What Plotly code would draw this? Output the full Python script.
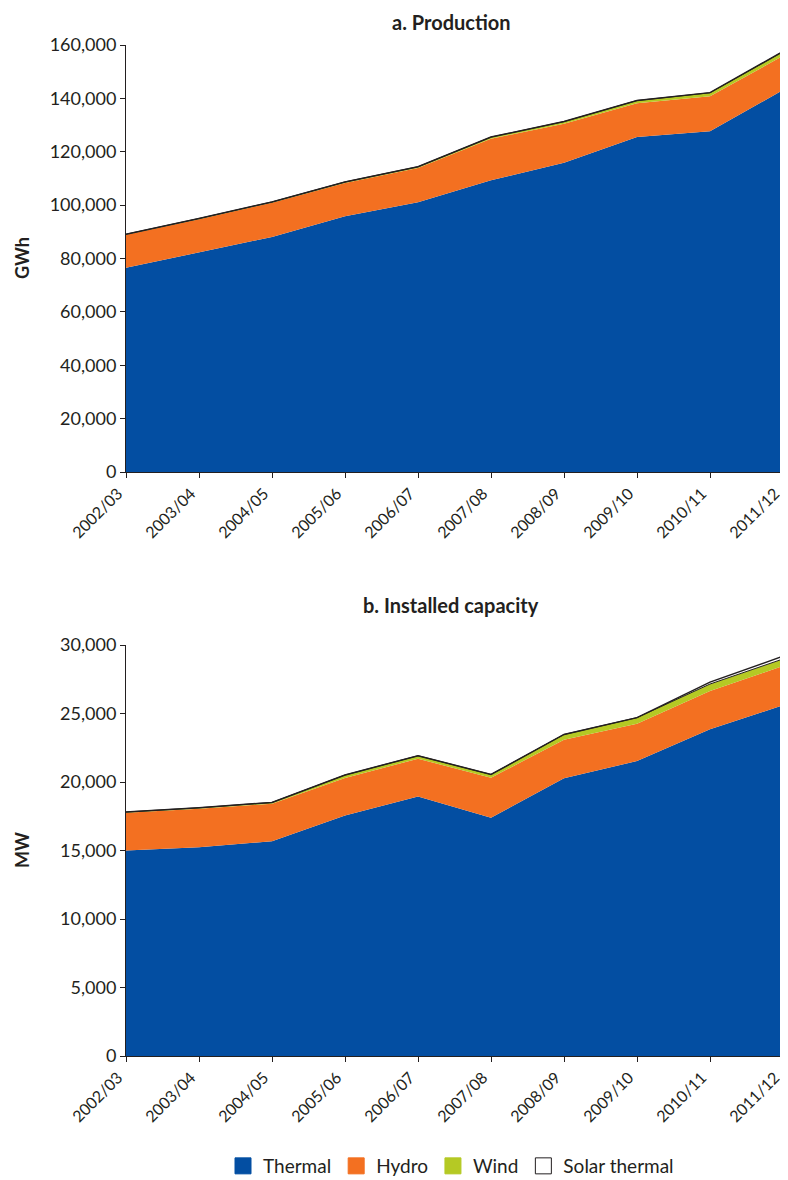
import plotly.graph_objects as go

years = ["2002/03", "2003/04", "2004/05", "2005/06", "2006/07",
         "2007/08", "2008/09", "2009/10", "2010/11", "2011/12"]

# a. Production (GWh)
prod_thermal = [76500, 82300, 88100, 95800, 101100, 109300, 115900, 125500, 127700, 143100]
prod_hydro = [12400, 12450, 12800, 12500, 12800, 15600, 14600, 12700, 13100, 12800]
prod_wind = [200, 250, 300, 400, 500, 600, 800, 1000, 1300, 1600]
prod_solar = [0, 0, 0, 0, 0, 0, 0, 0, 50, 100]

# b. Installed capacity (MW)
cap_thermal = [15000, 15240, 15680, 17550, 18950, 17390, 20270, 21530, 23850, 25600]
cap_hydro = [2750, 2810, 2730, 2740, 2750, 2920, 2820, 2730, 2800, 2860]
cap_wind = [60, 70, 100, 220, 220, 240, 380, 440, 500, 520]
cap_solar = [0, 0, 0, 0, 0, 0, 0, 0, 140, 200]

series_names = ["Thermal", "Hydro", "Wind", "Solar thermal"]

BLUE = "#034ea2"
ORANGE = "#f37021"
GREEN = "#b5c924"
DARK = "#231f20"
FONT = "Lato"

fig = go.Figure()


def add_stack(xa, ya, group, thermal, hydro, wind, solar):
    fig.add_trace(go.Scatter(x=years, y=thermal, name="Thermal", stackgroup=group,
                             mode="lines", line=dict(width=0, color=BLUE), fillcolor=BLUE,
                             xaxis=xa, yaxis=ya, showlegend=False))
    fig.add_trace(go.Scatter(x=years, y=hydro, name="Hydro", stackgroup=group,
                             mode="lines", line=dict(width=0, color=ORANGE), fillcolor=ORANGE,
                             xaxis=xa, yaxis=ya, showlegend=False))
    fig.add_trace(go.Scatter(x=years, y=wind, name="Wind", stackgroup=group,
                             mode="lines", line=dict(width=0, color=GREEN), fillcolor=GREEN,
                             xaxis=xa, yaxis=ya, showlegend=False))
    # black edge at top of wind (bottom edge of solar thermal band)
    fig.add_trace(go.Scatter(x=years, y=[0] * len(years), name="edge", stackgroup=group,
                             mode="lines", line=dict(width=1, color=DARK),
                             fillcolor="rgba(0,0,0,0)",
                             xaxis=xa, yaxis=ya, showlegend=False))
    fig.add_trace(go.Scatter(x=years, y=solar, name="Solar thermal", stackgroup=group,
                             mode="lines", line=dict(width=1.5, color=DARK), fillcolor="white",
                             xaxis=xa, yaxis=ya, showlegend=False))


add_stack("x", "y", "a", prod_thermal, prod_hydro, prod_wind, prod_solar)
add_stack("x2", "y2", "b", cap_thermal, cap_hydro, cap_wind, cap_solar)

# legend entries with square swatches
legend_fill = [BLUE, ORANGE, GREEN, "white"]
legend_line = [BLUE, ORANGE, GREEN, DARK]
for nm, fc, lc in zip(series_names, legend_fill, legend_line):
    fig.add_trace(go.Scatter(x=[None], y=[None], name=nm, mode="markers",
                             marker=dict(symbol="square", size=17, color=fc,
                                         line=dict(color=lc, width=1)),
                             xaxis="x2", yaxis="y2", showlegend=True))

# the page places the figure 8px in from the top-left corner
OFF = 8
H = 1180 - OFF
W = 788 - OFF
L = 126 - OFF
R = 5


def py(px):
    return 1 - (px - OFF) / H


def px_x(px):
    return (px - OFF - L) / (W - L - R)


axis_common = dict(showline=True, linecolor=DARK, linewidth=1, ticks="outside",
                   ticklen=5, tickcolor=DARK, showgrid=False, zeroline=False,
                   automargin=False,
                   tickfont=dict(family=FONT, size=18, color=DARK))

xaxis_common = dict(axis_common, type="category", range=[0, 9], tickangle=-45,
                    ticklabelshift=-8,
                    tickfont=dict(family=FONT, size=16, color=DARK))

fig.update_layout(
    width=W, height=H,
    margin=dict(l=L, r=R, t=0, b=0, autoexpand=False),
    paper_bgcolor="white", plot_bgcolor="white",
    font=dict(family=FONT, color=DARK),
    xaxis=dict(xaxis_common, domain=[0, 1], anchor="y"),
    yaxis=dict(axis_common, domain=[py(472), py(45)], range=[0, 160000],
               tick0=0, dtick=20000, tickformat=",", anchor="x"),
    xaxis2=dict(xaxis_common, domain=[0, 1], anchor="y2"),
    yaxis2=dict(axis_common, domain=[py(1056), py(645)], range=[0, 30000],
                tick0=0, dtick=5000, tickformat=",", anchor="x2"),
    showlegend=True,
    legend=dict(orientation="h", x=px_x(451), xanchor="center", y=py(1166), yanchor="middle",
                font=dict(family=FONT, size=19, color=DARK), traceorder="normal",
                itemwidth=30, bgcolor="rgba(0,0,0,0)"),
    annotations=[
        dict(text="<b>a. Production</b>", xref="paper", yref="paper",
             x=px_x(451), y=1, showarrow=False,
             xanchor="center", yanchor="top",
             font=dict(family=FONT, size=20, color=DARK)),
        dict(text="<b>b. Installed capacity</b>", xref="paper", yref="paper",
             x=px_x(451), y=py(605), showarrow=False,
             xanchor="center", yanchor="middle",
             font=dict(family=FONT, size=20, color=DARK)),
        dict(text="<b>GWh</b>", xref="paper", yref="paper",
             x=px_x(9), y=py(258), showarrow=False, textangle=-90,
             xanchor="left", yanchor="middle",
             font=dict(family=FONT, size=18, color=DARK)),
        dict(text="<b>MW</b>", xref="paper", yref="paper",
             x=px_x(9), y=py(850), showarrow=False, textangle=-90,
             xanchor="left", yanchor="middle",
             font=dict(family=FONT, size=18, color=DARK)),
    ],
)

fig.write_html("out.html")
